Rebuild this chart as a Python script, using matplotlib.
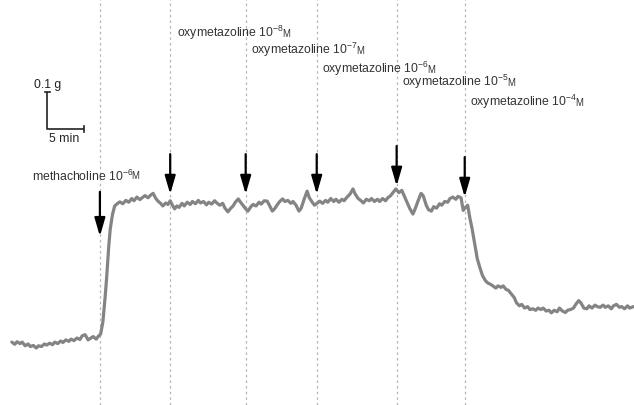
import matplotlib
matplotlib.use("Agg")
import matplotlib.pyplot as plt

plt.rcParams['font.family'] = ['Liberation Sans', 'DejaVu Sans']
plt.rcParams['mathtext.fontset'] = 'custom'
plt.rcParams['mathtext.rm'] = 'Liberation Sans'
plt.rcParams['mathtext.it'] = 'Liberation Sans'

# ---- data (time in min, tension in g) ----
time_min = [
    1.6, 2.0, 2.3, 2.7, 3.0, 3.4, 3.8, 4.1, 4.5, 4.9, 5.2, 5.6, 6.0, 6.3, 6.7, 7.1, 7.4, 7.8,
    8.2, 8.5, 8.9, 9.3, 9.6, 10.0, 10.4, 10.8, 11.1, 11.5, 11.9, 12.2, 12.6, 13.0, 13.3, 13.6,
    13.9, 14.2, 14.4, 14.7, 14.9, 15.2, 15.5, 15.9, 16.2, 16.6, 17.0, 17.4, 17.8, 18.1, 18.5,
    18.9, 19.2, 19.6, 20.0, 20.4, 20.7, 21.0, 21.3, 21.7, 22.0, 22.4, 22.7, 23.0, 23.3, 23.6,
    23.9, 24.2, 24.6, 24.9, 25.3, 25.7, 26.0, 26.4, 26.8, 27.1, 27.5, 27.9, 28.2, 28.6, 29.0,
    29.3, 29.7, 30.1, 30.4, 30.8, 31.1, 31.5, 31.8, 32.2, 32.5, 32.9, 33.2, 33.5, 33.9, 34.2,
    34.6, 35.0, 35.3, 35.7, 36.1, 36.4, 36.8, 37.1, 37.5, 37.8, 38.2, 38.5, 38.9, 39.3, 39.6,
    40.0, 40.4, 40.7, 41.1, 41.5, 41.8, 42.2, 42.5, 42.9, 43.2, 43.6, 44.0, 44.3, 44.7, 45.1,
    45.4, 45.8, 46.2, 46.5, 46.9, 47.3, 47.7, 48.0, 48.4, 48.8, 49.1, 49.5, 49.9, 50.2, 50.6,
    51.0, 51.3, 51.7, 52.1, 52.4, 52.8, 53.1, 53.5, 53.9, 54.3, 54.6, 55.0, 55.4, 55.8, 56.1,
    56.5, 56.9, 57.2, 57.6, 57.9, 58.3, 58.6, 59.0, 59.4, 59.7, 60.1, 60.5, 60.8, 61.2, 61.6,
    61.9, 62.3, 62.6, 62.9, 63.2, 63.5, 63.8, 64.2, 64.5, 64.9, 65.2, 65.6, 65.9, 66.3, 66.6,
    67.0, 67.3, 67.7, 68.0, 68.4, 68.7, 69.1, 69.5, 69.8, 70.2, 70.5, 70.9, 71.3, 71.6, 72.0,
    72.4, 72.7, 73.1, 73.4, 73.8, 74.2, 74.5, 74.9, 75.3, 75.6, 76.0, 76.4, 76.7, 77.1, 77.5,
    77.8, 78.2, 78.5, 78.9, 79.3, 79.6, 80.0, 80.4, 80.7, 81.1, 81.5, 81.8, 82.2, 82.6, 82.9,
    83.3, 83.7, 84.0, 84.4, 84.8, 85.1, 85.6]
tension_g = [
    0.170, 0.164, 0.171, 0.166, 0.170, 0.160, 0.165, 0.158, 0.161, 0.154, 0.160, 0.158, 0.165,
    0.162, 0.167, 0.163, 0.170, 0.166, 0.173, 0.169, 0.176, 0.172, 0.178, 0.174, 0.181, 0.177,
    0.187, 0.190, 0.176, 0.180, 0.185, 0.178, 0.186, 0.192,
    0.224, 0.290, 0.341, 0.430, 0.476, 0.515, 0.538, 0.545, 0.549, 0.544, 0.553, 0.548, 0.558,
    0.552, 0.562, 0.555, 0.560, 0.566, 0.560, 0.568, 0.572, 0.560, 0.552, 0.545, 0.538, 0.546,
    0.542, 0.552, 0.540, 0.530, 0.538, 0.534, 0.545, 0.538, 0.548, 0.542, 0.550, 0.544, 0.553,
    0.546, 0.550, 0.541, 0.548, 0.543, 0.552, 0.546, 0.540, 0.545, 0.532, 0.522, 0.530, 0.538,
    0.548, 0.557, 0.548, 0.538, 0.530, 0.524, 0.536, 0.542, 0.538, 0.548, 0.543, 0.552, 0.551,
    0.540, 0.524, 0.530, 0.542, 0.550, 0.557, 0.550, 0.553, 0.545, 0.550, 0.540, 0.524, 0.532,
    0.556, 0.578, 0.560, 0.548, 0.540, 0.546, 0.551, 0.545, 0.553, 0.548, 0.558, 0.550, 0.556,
    0.548, 0.556, 0.552, 0.562, 0.570, 0.584, 0.570, 0.558, 0.552, 0.546, 0.556, 0.552, 0.558,
    0.550, 0.556, 0.550, 0.558, 0.552, 0.560, 0.566, 0.574, 0.584, 0.574, 0.580, 0.566, 0.548,
    0.530, 0.516, 0.530, 0.552, 0.572, 0.565, 0.540, 0.528, 0.524, 0.536, 0.532, 0.544, 0.540,
    0.550, 0.548, 0.558, 0.562, 0.556, 0.564, 0.560, 0.526, 0.534, 0.540, 0.505, 0.476, 0.430,
    0.395, 0.368, 0.350, 0.336, 0.330, 0.326, 0.322, 0.316, 0.322, 0.318, 0.322, 0.312, 0.310,
    0.300, 0.290, 0.276, 0.268, 0.272, 0.262, 0.266, 0.258, 0.260, 0.256, 0.262, 0.258, 0.262,
    0.254, 0.256, 0.249, 0.256, 0.252, 0.262, 0.254, 0.250, 0.256, 0.258, 0.262, 0.272, 0.282,
    0.276, 0.262, 0.260, 0.268, 0.262, 0.270, 0.266, 0.264, 0.270, 0.264, 0.268, 0.260, 0.268,
    0.272, 0.264, 0.266, 0.260, 0.268, 0.262, 0.266]

event_times = [13.5, 23.0, 33.2, 42.8, 53.6, 62.8]
label_names = ["methacholine", "oxymetazoline", "oxymetazoline",
               "oxymetazoline", "oxymetazoline", "oxymetazoline"]
label_exponents = [-6, -8, -7, -6, -5, -4]
label_unit = "M"

# layout (annotation placement in g / min)
arrow_tail = [0.576, 0.678, 0.678, 0.678, 0.700, 0.670]
arrow_tip = [0.456, 0.570, 0.570, 0.570, 0.592, 0.562]
label_x = [4.3, 23.9, 33.9, 43.5, 54.3, 63.5]
label_y = [0.608, 0.997, 0.951, 0.900, 0.865, 0.811]

px_per_min = 7.4
px_per_g = 370.0
W, H = 634, 406
FS = 8.8

fig = plt.figure(figsize=(W / 100, H / 100), dpi=100)
ax = fig.add_axes([0, 0, 1, 1])
ax.set_xlim(0, W / px_per_min)
ax.set_ylim(0, H / px_per_g)
ax.axis('off')

for t in event_times:
    ax.axvline(t, color='#b5b5b5', lw=0.9, ls=(0, (2, 2.5)), zorder=1)

ax.plot(time_min, tension_g, color='#848484', lw=2.3, zorder=3,
        solid_joinstyle='round', solid_capstyle='round')

for t, ta, tp in zip(event_times, arrow_tail, arrow_tip):
    ax.annotate('', xy=(t, tp), xytext=(t, ta),
                arrowprops=dict(arrowstyle='-|>,head_width=0.32,head_length=1.1',
                                lw=1.6, color='black', shrinkA=0, shrinkB=0), zorder=4)

for name, e, lx, ly in zip(label_names, label_exponents, label_x, label_y):
    lab = name + r" 10$^{\mathregular{-%d}}$" % abs(e)
    txt = ax.text(lx, ly, lab, fontsize=FS, color='#333333', va='baseline', ha='left')
    ax.annotate(label_unit, xy=(1, 0), xycoords=txt, xytext=(-1.2, 0.21 * FS + 2.0),
                textcoords='offset points', fontsize=FS * 0.78, color='#333333',
                va='baseline', ha='left')

# scale bar: 5 min x 0.1 g
sx, sy = 6.35, 0.746
ax.plot([sx, sx, sx + 5], [sy + 0.1, sy, sy], color='#222222', lw=1.2, solid_capstyle='butt')
ax.plot([sx - 0.3, sx + 0.4], [sy + 0.1, sy + 0.1], color='#222222', lw=1.2)
ax.plot([sx + 5, sx + 5], [sy - 0.008, sy + 0.008], color='#222222', lw=1.2)
ax.text(4.6, 0.868, '0.1 g', fontsize=FS, color='#222222', va='center', ha='left')
ax.text(6.6, 0.722, '5 min', fontsize=FS, color='#222222', va='center', ha='left')

fig.savefig('out.png', dpi=100)
